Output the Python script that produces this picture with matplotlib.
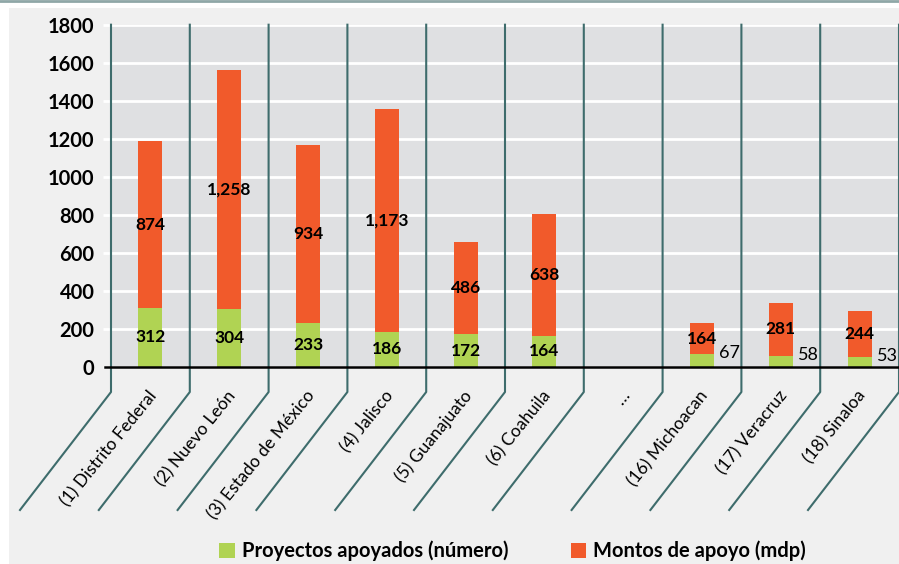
import numpy as np
import matplotlib
matplotlib.use('Agg')
import matplotlib.pyplot as plt
from matplotlib.patches import Rectangle
from matplotlib.lines import Line2D

# data
estados = ['(1) Distrito Federal', '(2) Nuevo León', '(3) Estado de México',
           '(4) Jalisco', '(5) Guanajuato', '(6) Coahuila', '…',
           '(16) Michoacan', '(17) Veracruz', '(18) Sinaloa']
proyectos = [312, 304, 233, 186, 172, 164, np.nan, 67, 58, 53]
montos = [874, 1258, 934, 1173, 486, 638, np.nan, 164, 281, 244]
monto_labels = ['874', '1,258', '934', '1,173', '486', '638', '', '164', '281', '244']
yticks = [0, 200, 400, 600, 800, 1000, 1200, 1400, 1600, 1800]

green = '#b0d353'
orange = '#f15a2b'
teal = '#3e6c6c'

plt.rcParams['font.family'] = ['Lato', 'DejaVu Sans']

fig = plt.figure(figsize=(8.99, 5.64), dpi=100)
fig.patch.set_facecolor('white')
# grey panel and top rule
fig.patches.append(Rectangle((9 / 899, 0), 1, 1 - 8 / 564, transform=fig.transFigure,
                             facecolor='#f0f0f0', edgecolor='none', zorder=-10))
fig.lines.append(Line2D([0, 1], [1 - 1 / 564, 1 - 1 / 564], transform=fig.transFigure,
                        color='#8fa7a7', lw=2))

ax = fig.add_axes([111 / 899, 1 - 367 / 564, 1 - 111 / 899, (367 - 24.7) / 564])
ax.set_facecolor('#dfe0e2')
for s in ax.spines.values():
    s.set_visible(False)

x = np.arange(len(estados))
w = 0.305
ax.bar(x, proyectos, w, color=green, zorder=3, label='Proyectos apoyados (número)')
ax.bar(x, montos, w, bottom=proyectos, color=orange, zorder=3, label='Montos de apoyo (mdp)')

ax.set_xlim(-0.5, len(estados) - 0.5)
ax.set_ylim(0, 1800)
ax.set_yticks(yticks)
ax.set_yticklabels([str(t) for t in yticks], fontsize=14.5, fontweight='bold')
ax.tick_params(axis='y', length=6, width=2, color='white', pad=6)
ax.grid(axis='y', color='white', lw=2, zorder=1)
ax.set_axisbelow(True)
ax.set_xticks([])
ax.axhline(0, xmin=-6 / 788, xmax=1, color='black', lw=1.8, clip_on=False, zorder=5)

# separators that bend into diagonals below the axis
px = 1800 / (367 - 24.7)
cat = 788 / len(estados)
for k in range(len(estados) + 1):
    xb = k - 0.5
    ax.plot([xb, xb, xb - 91 / cat], [1800, -25 * px, -143 * px],
            color=teal, lw=1.5, clip_on=False, zorder=4)

# category labels
for i, name in enumerate(estados):
    ax.annotate(name, xy=(i, 0), xytext=(7, -15), textcoords='offset points',
                rotation=51, ha='right', va='top', fontsize=12.5, annotation_clip=False)

# value labels
for i in range(len(estados)):
    p, m = proyectos[i], montos[i]
    if np.isnan(p):
        continue
    if p > 100:
        ax.text(i, p / 2, str(p), ha='center', va='center', fontsize=12.5, fontweight='bold', zorder=6)
    else:
        ax.text(i + 0.22, p + 5, str(p), ha='left', va='center', fontsize=13, zorder=6)
    ax.text(i, p + m / 2, monto_labels[i], ha='center', va='center', fontsize=12.5,
            fontweight='bold', zorder=6)

fig.legend(loc='center', bbox_to_anchor=(0.57, 1 - 551 / 564), ncol=2, frameon=False,
           prop={'weight': 'bold', 'size': 14.5}, handlelength=0.75, handleheight=0.75,
           handletextpad=0.35, columnspacing=3.1)

fig.savefig('out.png', dpi=100)
